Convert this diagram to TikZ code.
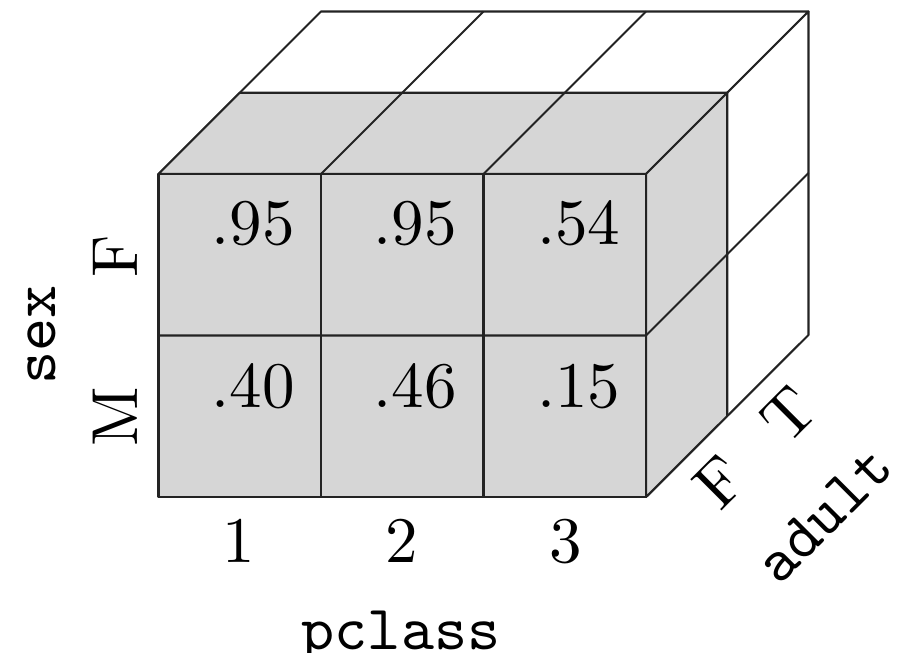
\documentclass[tikz,border=0pt]{standalone}
\usepackage{fontspec}
\setmainfont{lmroman10-regular.otf}
\setmonofont{lmmono10-regular.otf}
\definecolor{cellgray}{RGB}{214,214,214}
\definecolor{edgecol}{RGB}{35,35,35}
\begin{document}
\begin{tikzpicture}[x=0.5pt,y=-0.5pt, line join=round,
  edgeline/.style={draw=edgecol, line width=1.05pt},
  grayface/.style={fill=cellgray, draw=edgecol, line width=1.05pt},
  whiteface/.style={fill=white, draw=edgecol, line width=1.05pt},
  val/.style={anchor=base east, inner sep=0pt, font=\fontsize{32.5}{39}\selectfont},
  lab/.style={inner sep=0pt, font=\fontsize{32.5}{39}\selectfont},
  ttlab/.style={inner sep=0pt, font=\fontsize{31.5}{38}\selectfont\ttfamily}]
\useasboundingbox (0,0) rectangle (900,653);
% corner coordinates
\coordinate (A) at (158.5,174);   % front top left
\coordinate (B) at (646,174);     % front top right
\coordinate (C) at (646,497);     % front bottom right
\coordinate (D) at (158.5,497);   % front bottom left
\coordinate (A1) at (239.75,92.75);
\coordinate (B1) at (727.25,92.75);
\coordinate (C1) at (727.25,416);
\coordinate (A2) at (321,11.5);
\coordinate (B2) at (808.5,11.5);
\coordinate (C2) at (808.5,335);
% back (white) layer
\draw[whiteface] (A) -- (B) -- (B2) -- (A2) -- cycle;
\draw[whiteface] (B) -- (B2) -- (C2) -- (C) -- cycle;
% front (gray) layer
\draw[grayface] (A) -- (B) -- (B1) -- (A1) -- cycle;
\draw[grayface] (B) -- (B1) -- (C1) -- (C) -- cycle;
\draw[grayface] (A) rectangle (C);
% grid lines
\foreach \x in {321,483.5} {
  \draw[edgeline] (\x,174) -- (\x,497);
  \draw[edgeline] (\x,174) -- ++(162.5,-162.5);
}
\draw[edgeline] (158.5,335.5) -- (646,335.5) -- ++(162.5,-162.5);
% values
\node[val] (v11) at (295,244) {.95};
\node[val] (v12) at (457,244) {.95};
\node[val] (v13) at (620.5,244) {.54};
\node[val] (v21) at (295,407) {.40};
\node[val] (v22) at (457,407) {.46};
\node[val] (v23) at (620.5,407) {.15};
% pclass labels
\node[lab, anchor=base] (p1) at (239,562) {1};
\node[lab, anchor=base] (p2) at (402,562) {2};
\node[lab, anchor=base] (p3) at (566,562) {3};
\node[ttlab, anchor=base] (pclass) at (401,649) {pclass};
% sex labels
\node[lab, anchor=base, rotate=90] (sF) at (137,256) {F};
\node[lab, anchor=base, rotate=90] (sM) at (137,417) {M};
\node[ttlab, anchor=base, rotate=90] (sex) at (55,335) {sex};
% adult labels
\node[lab, rotate=45] (aF) at (720,482) {F};
\node[lab, rotate=45] (aT) at (789,414) {T};
\node[ttlab, rotate=45] (adult) at (824,515) {adult};
\end{tikzpicture}
\end{document}
